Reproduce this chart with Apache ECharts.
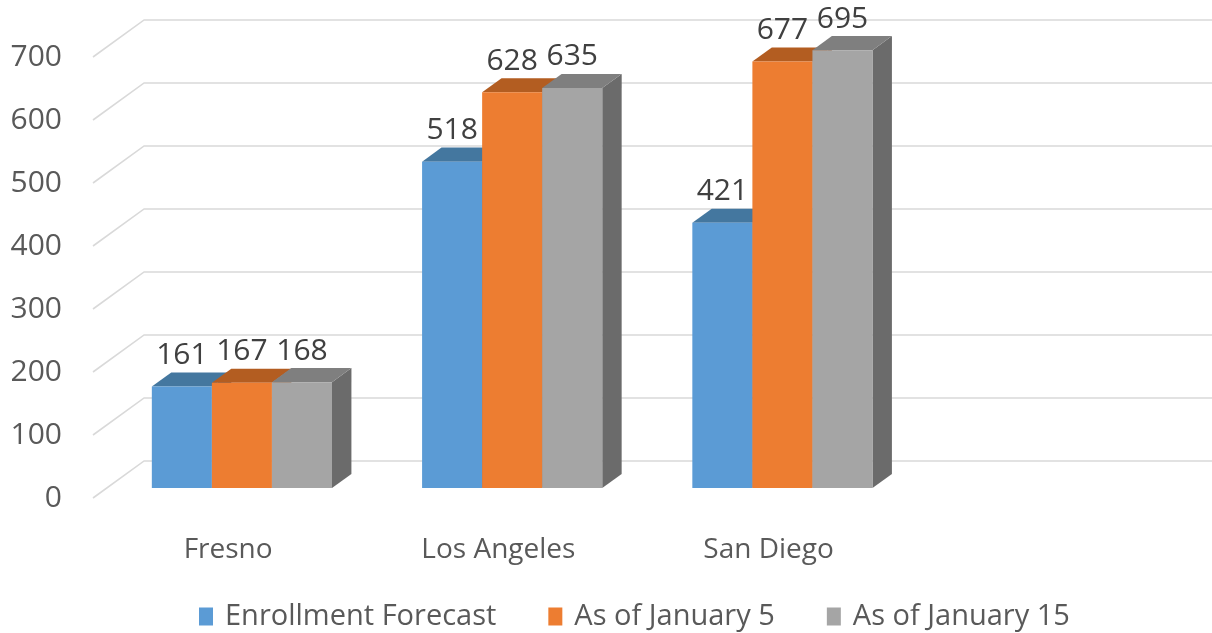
<!DOCTYPE html>
<html>
<head>
<meta charset="utf-8">
<script src="https://cdn.jsdelivr.net/npm/echarts@6/dist/echarts.min.js"></script>
<style>html,body{margin:0;padding:0;background:#fff;}#chart{width:1212px;height:633px;}</style>
</head>
<body>
<div id="chart"></div>
<script>
const categories = ['Fresno', 'Los Angeles', 'San Diego', ''];
const seriesNames = ['Enrollment Forecast', 'As of January 5', 'As of January 15'];
const enrollmentForecast = [161, 518, 421, null];
const asOfJanuary5 = [167, 628, 677, null];
const asOfJanuary15 = [168, 635, 695, null];
const yTicks = [0, 100, 200, 300, 400, 500, 600, 700];

const seriesValues = [enrollmentForecast, asOfJanuary5, asOfJanuary15];
const frontColors = ['#5B9BD5', '#ED7D31', '#A5A5A5'];
const topColors = ['#44779F', '#B35D21', '#7F7F7F'];
const sideColors = ['#3A6A94', '#A4551E', '#6B6B6B'];
const FONT = '"Open Sans", sans-serif';

function depth(band) {
  const wdx = band * 0.189;
  return { wdx: wdx, wdy: wdx * 0.725 };
}

function renderGrid(params, api) {
  const cs = params.coordSys;
  const band = api.size([1, 0])[0];
  const d = depth(band);
  const y = api.coord([0, api.value(1)])[1];
  return {
    type: 'polyline',
    shape: { points: [[cs.x, y], [cs.x + d.wdx, y - d.wdy], [cs.x + cs.width + d.wdx, y - d.wdy]] },
    style: { stroke: '#D9D9D9', lineWidth: 1.6, fill: null }
  };
}

function renderBar(params, api) {
  const si = seriesNames.indexOf(params.seriesName);
  const cat = api.value(0), val = api.value(1);
  if (val == null || isNaN(val)) return;
  const band = api.size([1, 0])[0];
  const w = band / 4.5;
  const d = depth(band);
  const fdx = d.wdx * 0.27, fdy = d.wdy * 0.27;
  const tdx = d.wdx * 0.38, tdy = d.wdy * 0.38;
  const c = api.coord([cat, val]);
  const b = api.coord([cat, 0]);
  const x = c[0] - 1.5 * w + si * w + fdx;
  const top = c[1] - fdy;
  const bottom = b[1] - fdy;
  return {
    type: 'group',
    children: [
      { type: 'polygon', shape: { points: [[x + w, top], [x + w + tdx, top - tdy], [x + w + tdx, bottom - tdy], [x + w, bottom]] }, style: { fill: sideColors[si] } },
      { type: 'polygon', shape: { points: [[x, top], [x + w, top], [x + w + tdx, top - tdy], [x + tdx, top - tdy]] }, style: { fill: topColors[si] } },
      { type: 'rect', shape: { x: x, y: top, width: w, height: bottom - top }, style: { fill: frontColors[si] } },
      { type: 'text', style: { text: String(val), x: x + w / 2, y: top - 31, align: 'center', verticalAlign: 'middle', font: '30px ' + FONT, fill: '#404040' } }
    ]
  };
}

const series = [{
  type: 'custom',
  name: 'grid',
  renderItem: renderGrid,
  data: yTicks.map(v => [0, v]),
  encode: { x: 0, y: 1 },
  silent: true,
  z: 1
}];
seriesNames.forEach((n, i) => {
  series.push({
    type: 'custom',
    name: n,
    renderItem: renderBar,
    itemStyle: { color: frontColors[i] },
    data: categories.map((c, j) => [j, seriesValues[i][j]]),
    encode: { x: 0, y: 1 },
    z: 2
  });
});

const chart = echarts.init(document.getElementById('chart'), null, { renderer: 'canvas' });
chart.setOption({
  animation: false,
  backgroundColor: '#ffffff',
  grid: { left: 93, right: 38, top: 57, bottom: 135 },
  xAxis: {
    type: 'category',
    data: categories,
    axisLine: { show: false },
    axisTick: { show: false },
    axisLabel: { fontSize: 28, fontFamily: FONT, color: '#595959', margin: 38 }
  },
  yAxis: {
    type: 'value',
    min: 0, max: 700, interval: 100,
    axisLine: { show: false },
    axisTick: { show: false },
    splitLine: { show: false },
    axisLabel: { fontSize: 30, fontFamily: FONT, color: '#595959', margin: 31 }
  },
  legend: {
    data: seriesNames,
    left: 194,
    top: 597,
    icon: 'rect',
    itemWidth: 14,
    itemHeight: 18,
    itemGap: 52,
    textStyle: { fontSize: 29, fontFamily: FONT, color: '#595959', padding: [0, 0, 0, 7] }
  },
  series: series
});
</script>
</body>
</html>
